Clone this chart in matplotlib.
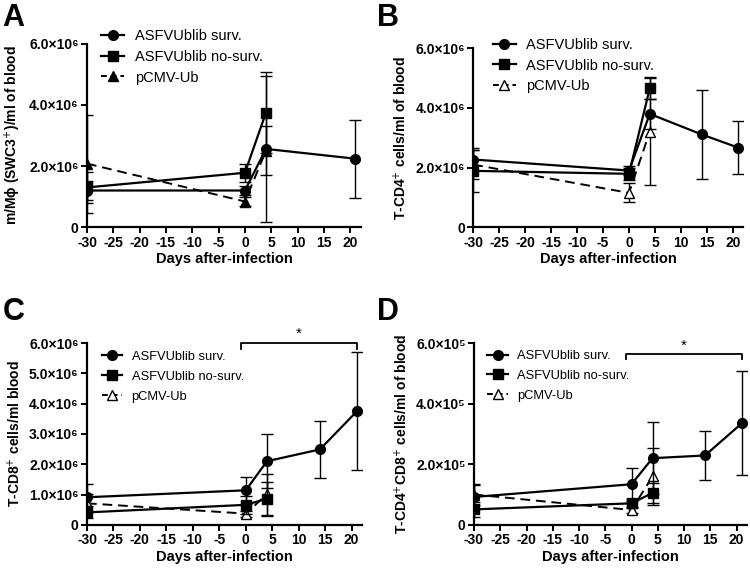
import numpy as np
import matplotlib
matplotlib.use("Agg")
import matplotlib.pyplot as plt
from matplotlib.ticker import FuncFormatter
from matplotlib.lines import Line2D

plt.rcParams['font.family'] = ['Liberation Sans', 'DejaVu Sans']

days_surv = [-30, 0, 4, 14, 21]
days_surv_a = [-30, 0, 4, 21]
days_short = [-30, 0, 4]

# Panel A: m/Mphi (x1e6)
a_surv = [1.20, 1.20, 2.56, 2.24]
a_surv_err = [0.30, 0.15, 2.40, 1.27]
a_nosurv = [1.30, 1.78, 3.75]
a_nosurv_err = [0.50, 0.30, 1.33]
a_pcmv = [2.08, 0.84, 2.50]
a_pcmv_err = [1.60, 0.15, 0.80]

# Panel B: T-CD4+ (x1e6)
b_surv = [2.27, 1.90, 3.80, 3.11, 2.67]
b_surv_err = [0.40, 0.15, 0.50, 1.48, 0.90]
b_nosurv = [1.89, 1.79, 4.66]
b_nosurv_err = [0.70, 0.20, 0.37]
b_pcmv = [2.10, 1.15, 3.20]
b_pcmv_err = [0.50, 0.32, 1.80]

# Panel C: T-CD8+ (x1e6)
c_surv = [0.91, 1.14, 2.10, 2.49, 3.75]
c_surv_err = [0.45, 0.44, 0.90, 0.95, 1.95]
c_nosurv = [0.41, 0.66, 0.86]
c_nosurv_err = [0.20, 0.30, 0.56]
c_pcmv = [0.71, 0.37, 1.01]
c_pcmv_err = [0.30, 0.10, 0.68]

# Panel D: T-CD4+CD8+ (x1e5)
d_surv = [0.92, 1.34, 2.20, 2.29, 3.35]
d_surv_err = [0.40, 0.54, 1.18, 0.82, 1.72]
d_nosurv = [0.51, 0.71, 1.05]
d_nosurv_err = [0.25, 0.15, 0.34]
d_pcmv = [1.00, 0.49, 1.60]
d_pcmv_err = [0.35, 0.10, 0.93]

labels = ['ASFVUblib surv.', 'ASFVUblib no-surv.', 'pCMV-Ub']
xticks = list(range(-30, 21, 5))

fig = plt.figure(figsize=(7.5, 5.68), dpi=100)

panels = [
    dict(pos=[0.116, 0.600, 0.365, 0.323], letter='A', lpos=(0.003, 0.995), exp=6,
         yticks=[0, 2, 4, 6], ylabel='m/Mϕ (SWC3$^{+}$)/ml of blood', xs=days_surv_a,
         data=(a_surv, a_surv_err, a_nosurv, a_nosurv_err, a_pcmv, a_pcmv_err),
         tri_fill='black', leg=(0.03, 1.11), lfs=10.5, bracket=None),
    dict(pos=[0.631, 0.600, 0.360, 0.315], letter='B', lpos=(0.503, 0.995), exp=6,
         yticks=[0, 2, 4, 6], ylabel='T-CD4$^{+}$ cells/ml of blood', xs=days_surv,
         data=(b_surv, b_surv_err, b_nosurv, b_nosurv_err, b_pcmv, b_pcmv_err),
         tri_fill='white', leg=(0.05, 1.09), lfs=10.5, bracket=None),
    dict(pos=[0.116, 0.076, 0.367, 0.320], letter='C', lpos=(0.003, 0.477), exp=6,
         yticks=[0, 1, 2, 3, 4, 5, 6], ylabel='T-CD8$^{+}$ cells/ml blood', xs=days_surv,
         data=(c_surv, c_surv_err, c_nosurv, c_nosurv_err, c_pcmv, c_pcmv_err),
         tri_fill='white', leg=(0.035, 0.985), lfs=9.3, bracket=(6.0, 0.18, 6.3)),
    dict(pos=[0.632, 0.076, 0.364, 0.320], letter='D', lpos=(0.503, 0.477), exp=5,
         yticks=[0, 2, 4, 6], ylabel='T-CD4$^{+}$CD8$^{+}$ cells/ml of blood', xs=days_surv,
         data=(d_surv, d_surv_err, d_nosurv, d_nosurv_err, d_pcmv, d_pcmv_err),
         tri_fill='white', leg=(0.03, 0.99), lfs=9.3, bracket=(5.65, 0.18, 5.9)),
]

sup = {5: '⁵', 6: '⁶'}

for p in panels:
    ax = fig.add_axes(p['pos'])
    surv, surv_err, nosurv, nosurv_err, pcmv, pcmv_err = p['data']
    ebkw = dict(capsize=4, elinewidth=1.0, capthick=1.0, ecolor='black')
    ax.errorbar(p['xs'], surv, yerr=surv_err, color='black', marker='o', ms=7,
                lw=1.6, zorder=4, **ebkw)
    ax.errorbar(days_short, nosurv, yerr=nosurv_err, color='black', marker='s', ms=7,
                lw=1.6, zorder=3, **ebkw)
    ax.errorbar(days_short, pcmv, yerr=pcmv_err, color='black', marker='^', ms=7,
                mfc=p['tri_fill'], mec='black', lw=1.4, ls=(0, (5, 3)), zorder=2, **ebkw)

    ax.set_xlim(-30, 22)
    ax.set_ylim(0, 6)
    ax.set_xticks(xticks)
    ax.set_yticks(p['yticks'])
    e = p['exp']
    ax.yaxis.set_major_formatter(FuncFormatter(
        lambda v, pos, e=e: '0' if v == 0 else f'{v:.1f}×10{sup[e]}'))
    ax.xaxis.set_major_formatter(FuncFormatter(lambda v, pos: f'{int(v)}'))
    for s in ['top', 'right']:
        ax.spines[s].set_visible(False)
    for s in ['left', 'bottom']:
        ax.spines[s].set_linewidth(1.6)
    ax.tick_params(width=1.4, length=4, pad=2, labelsize=10)
    for t in ax.get_xticklabels() + ax.get_yticklabels():
        t.set_fontweight('bold')
    ax.set_xlabel('Days after-infection', fontsize=10.5, fontweight='bold', labelpad=2)
    ax.set_ylabel(p['ylabel'], fontsize=10, fontweight='bold', labelpad=4)

    handles = [
        Line2D([], [], color='black', marker='o', ms=7, lw=1.6),
        Line2D([], [], color='black', marker='s', ms=7, lw=1.6),
        Line2D([], [], color='black', marker='^', ms=7, mfc=p['tri_fill'],
               lw=1.4, ls=(0, (3, 2))),
    ]
    ax.legend(handles, labels, loc='upper left', bbox_to_anchor=p['leg'],
              frameon=False, fontsize=p['lfs'], handlelength=1.6, handletextpad=0.7,
              labelspacing=0.6 if p['lfs'] < 10 else 0.45, borderaxespad=0)

    if p['bracket'] is not None:
        by, dy, sy = p['bracket']
        ax.plot([-1, -1, 21, 21], [by - dy, by, by, by - dy], color='black', lw=1.3,
                clip_on=False)
        ax.text(10, sy, '*', ha='center', va='center', fontsize=11, clip_on=False)

    fig.text(p['lpos'][0], p['lpos'][1], p['letter'], fontsize=22, fontweight='bold',
             ha='left', va='top')

fig.savefig('out.png', dpi=100)
